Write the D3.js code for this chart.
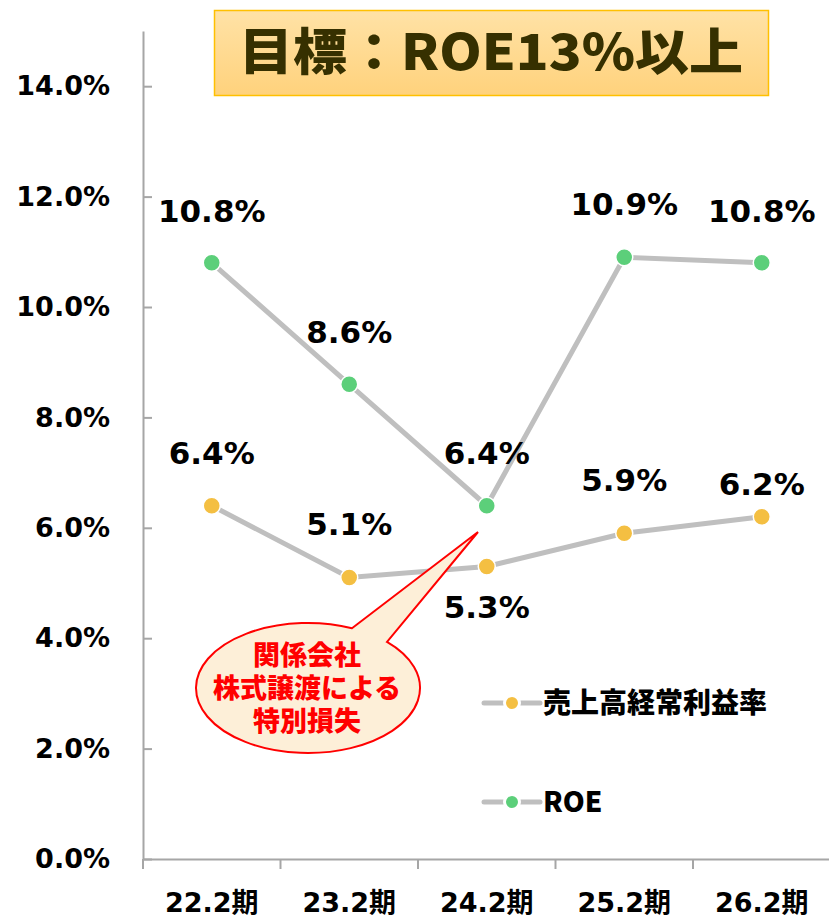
<!DOCTYPE html>
<html>
<head>
<meta charset="utf-8">
<script src="https://cdn.jsdelivr.net/npm/d3@7"></script>
<style>
  body { margin: 0; background: #fff; }
  svg text { font-family: "DejaVu Sans", "Noto Sans CJK JP", sans-serif; font-weight: bold; }
</style>
</head>
<body>
<div id="viz"></div>
<script>
// periods on the x axis
var periods = ["22.2期", "23.2期", "24.2期", "25.2期", "26.2期"];
// 売上高経常利益率 (%)
var ordinaryMargin = [6.4, 5.1, 5.3, 5.9, 6.2];
// ROE (%)
var roe = [10.8, 8.6, 6.4, 10.9, 10.8];
var yTicks = [0, 2, 4, 6, 8, 10, 12, 14];
var seriesNames = ["売上高経常利益率", "ROE"];
var titleText = "目標：ROE13%以上";
var calloutLines = ["関係会社", "株式譲渡による", "特別損失"];

var width = 829,
    height = 916,
    lineColor = "#BFBFBF",
    orange = "#F4BF42",
    green = "#5CCF7A",
    axisColor = "#A6A6A6";

var svg = d3.select('#viz').append('svg')
    .attr('width', width)
    .attr('height', height);

var yScale = d3.scaleLinear()
    .domain([0, 15])
    .range([859, 31]);

var xScale = d3.scaleBand()
    .domain(periods)
    .range([143, 830.5])
    .padding(0);

var cx = function(d, i) { return xScale(periods[i]) + xScale.bandwidth() / 2; };

// y axis, ticks point inward
svg.append('g')
    .attr('transform', 'translate(143,0)')
    .call(d3.axisLeft(yScale)
        .tickValues(yTicks)
        .tickSizeInner(-9)
        .tickSizeOuter(0)
        .tickPadding(33)
        .tickFormat(function(d) { return d3.format('.1f')(d) + '%'; }))
    .call(function(g) {
        g.selectAll('path, line').attr('stroke', axisColor).attr('stroke-width', 2);
        g.selectAll('text')
            .attr('fill', '#000')
            .style('font-size', '27px')
            .attr('dy', '0.32em');
    });

// x axis: labels at band centers, ticks at band edges
svg.append('g')
    .attr('transform', 'translate(0,859)')
    .call(d3.axisBottom(xScale).tickSize(0).tickPadding(0))
    .call(function(g) {
        g.select('.domain').attr('stroke', axisColor).attr('stroke-width', 2);
        g.selectAll('text')
            .attr('fill', '#000')
            .attr('y', 53)
            .attr('dy', 0)
            .style('font-size', '27px');
    });

svg.append('g').selectAll('line')
    .data(periods.concat(['end']))
    .enter().append('line')
    .attr('x1', function(d, i) { return i < periods.length ? xScale(d) : xScale.range()[1]; })
    .attr('x2', function(d, i) { return i < periods.length ? xScale(d) : xScale.range()[1]; })
    .attr('y1', 859)
    .attr('y2', 869)
    .attr('stroke', axisColor)
    .attr('stroke-width', 2);

// title box
var grad = svg.append('defs').append('linearGradient')
    .attr('id', 'titleGrad')
    .attr('x1', 0).attr('y1', 0).attr('x2', 0).attr('y2', 1);
grad.append('stop').attr('offset', '0%').attr('stop-color', '#FFE2A6');
grad.append('stop').attr('offset', '100%').attr('stop-color', '#FFD27C');

svg.append('rect')
    .attr('x', 214.5)
    .attr('y', 10.5)
    .attr('width', 554)
    .attr('height', 85)
    .attr('fill', 'url(#titleGrad)')
    .attr('stroke', '#FFC000')
    .attr('stroke-width', 1.5);

svg.append('text')
    .attr('x', 491)
    .attr('y', 70)
    .attr('text-anchor', 'middle')
    .attr('fill', '#363000')
    .attr('textLength', 504)
    .attr('lengthAdjust', 'spacingAndGlyphs')
    .style('font-family', '"Noto Sans CJK JP", sans-serif')
    .style('font-weight', 900)
    .style('font-size', '50px')
    .text(titleText);

var line = d3.line()
    .x(function(d, i) { return cx(d, i); })
    .y(function(d) { return yScale(d); });

function drawSeries(values, color) {
    svg.append('path')
        .datum(values)
        .attr('fill', 'none')
        .attr('stroke', lineColor)
        .attr('stroke-width', 5)
        .attr('d', line);
    svg.append('g').selectAll('circle')
        .data(values)
        .enter().append('circle')
        .attr('cx', cx)
        .attr('cy', function(d) { return yScale(d); })
        .attr('r', 8.5)
        .attr('fill', color)
        .attr('stroke', '#fff')
        .attr('stroke-width', 1.5);
}

drawSeries(ordinaryMargin, orange);
drawSeries(roe, green);

// data labels
var roeLabelDy = [-41, -41, -42, -42, -41];
var marginLabelDy = [-42, -42, 52, -42, -22];

function drawLabels(values, dys) {
    svg.append('g').selectAll('text')
        .data(values)
        .enter().append('text')
        .attr('x', cx)
        .attr('y', function(d, i) { return yScale(d) + dys[i]; })
        .attr('text-anchor', 'middle')
        .attr('fill', '#000')
        .style('font-size', '31px')
        .text(function(d) { return d3.format('.1f')(d) + '%'; });
}
drawLabels(roe, roeLabelDy);
drawLabels(ordinaryMargin, marginLabelDy);

// callout bubble
var ex = 308, ey = 688, rx = 112, ry = 65;
function onEllipse(px) {
    var t = (px - ex) / rx;
    return [px, ey - ry * Math.sqrt(1 - t * t)];
}
var baseL = onEllipse(352),
    baseR = onEllipse(387),
    tip = [478, 532];

svg.append('path')
    .attr('d', 'M' + baseR[0] + ',' + baseR[1] +
        ' A' + rx + ',' + ry + ' 0 1 1 ' + baseL[0] + ',' + baseL[1] +
        ' L' + tip[0] + ',' + tip[1] + ' Z')
    .attr('fill', '#FDEFD8')
    .attr('stroke', '#FF0000')
    .attr('stroke-width', 2)
    .attr('stroke-linejoin', 'miter');

svg.append('g').selectAll('text')
    .data(calloutLines)
    .enter().append('text')
    .attr('x', 307)
    .attr('y', function(d, i) { return 665 + i * 33; })
    .attr('text-anchor', 'middle')
    .attr('fill', '#FF0000')
    .style('font-family', '"Noto Sans CJK JP", sans-serif')
    .style('font-weight', 900)
    .style('font-size', '27px')
    .text(function(d) { return d; });

// legend
var legend = svg.append('g').selectAll('g')
    .data(seriesNames)
    .enter().append('g')
    .attr('transform', function(d, i) { return 'translate(484,' + (703 + i * 99) + ')'; });

legend.append('line')
    .attr('x1', 0).attr('x2', 56)
    .attr('y1', 0).attr('y2', 0)
    .attr('stroke', lineColor)
    .attr('stroke-width', 5)
    .attr('stroke-linecap', 'round');

legend.append('circle')
    .attr('cx', 28)
    .attr('cy', 0)
    .attr('r', 7.5)
    .attr('fill', function(d, i) { return i === 0 ? orange : green; })
    .attr('stroke', '#fff')
    .attr('stroke-width', 3);

legend.append('text')
    .attr('x', 59)
    .attr('y', 10)
    .attr('fill', '#000')
    .style('font-family', '"Noto Sans CJK JP", sans-serif')
    .style('font-weight', 900)
    .style('font-size', '28px')
    .text(function(d) { return d; });
</script>
</body>
</html>
